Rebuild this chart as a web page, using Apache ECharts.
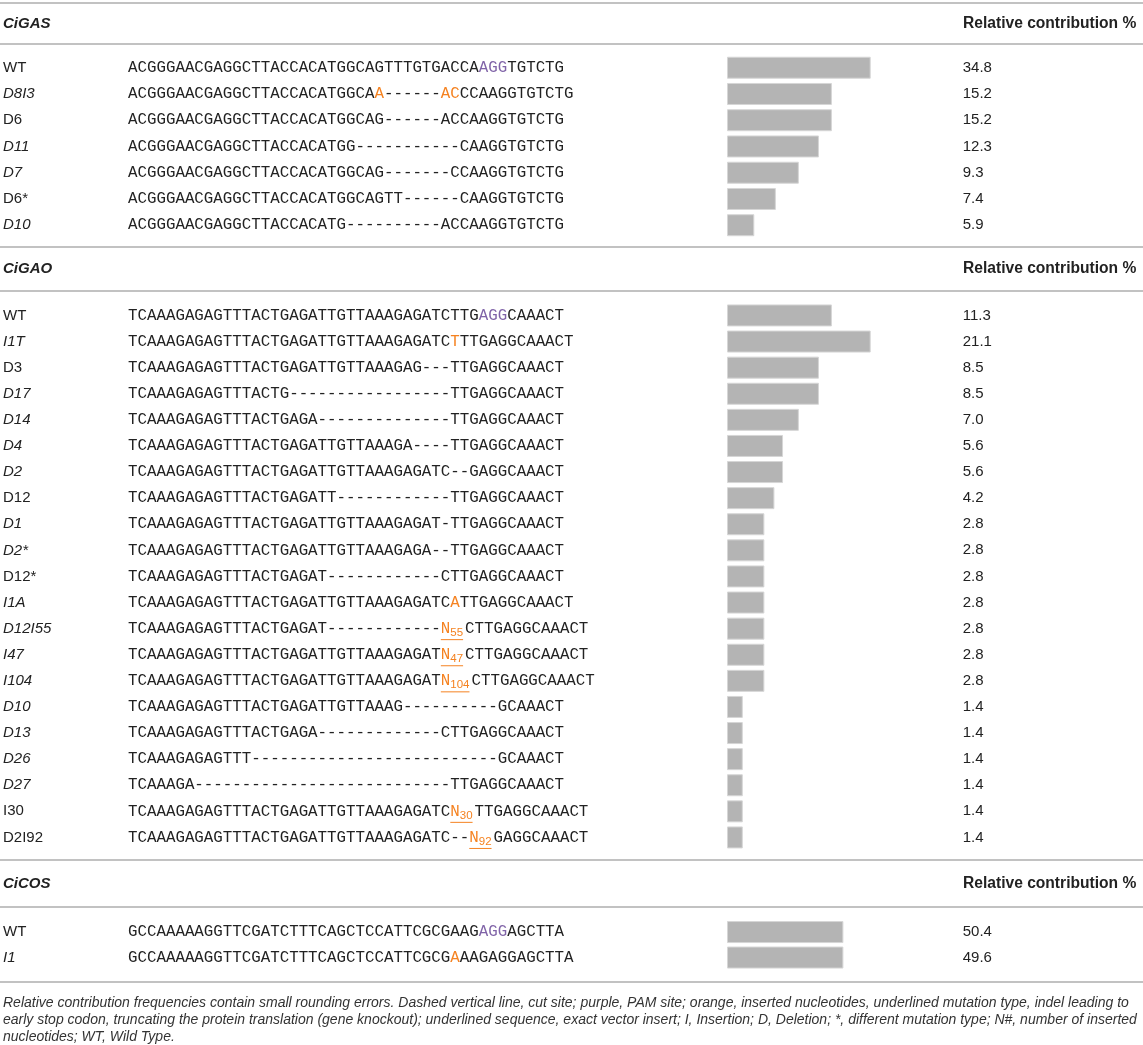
<!DOCTYPE html>
<html>
<head>
<meta charset="utf-8">
<script src="https://cdn.jsdelivr.net/npm/echarts@6/dist/echarts.min.js"></script>
<style>
  html, body { margin: 0; padding: 0; background: #fff; }
  #main { width: 1143px; height: 1045px; }
</style>
</head>
<body>
<div id="main"></div>
<script>
// {p:..} = PAM site (purple), {o:..} = inserted nucleotides (orange), {N:n} = insert of n nt
const gasNames = ['WT', 'D8I3', 'D6', 'D11', 'D7', 'D6*', 'D10'];
const gasSeqs = [
  'ACGGGAACGAGGCTTACCACATGGCAGTTTGTGACCA{p:AGG}TGTCTG',
  'ACGGGAACGAGGCTTACCACATGGCA{o:A}------{o:AC}CCAAGGTGTCTG',
  'ACGGGAACGAGGCTTACCACATGGCAG------ACCAAGGTGTCTG',
  'ACGGGAACGAGGCTTACCACATGG-----------CAAGGTGTCTG',
  'ACGGGAACGAGGCTTACCACATGGCAG-------CCAAGGTGTCTG',
  'ACGGGAACGAGGCTTACCACATGGCAGTT------CAAGGTGTCTG',
  'ACGGGAACGAGGCTTACCACATG----------ACCAAGGTGTCTG'
];
const gasValues = [34.8, 15.2, 15.2, 12.3, 9.3, 7.4, 5.9];
// bar length as drawn, relative to the longest bar
const gasBars = [1.0, 0.73, 0.73, 0.64, 0.50, 0.34, 0.19];
// knockout (frameshift / early stop) rows are set in italics
const gasKnockout = [0, 1, 0, 1, 1, 0, 1];

const gaoNames = ['WT', 'I1T', 'D3', 'D17', 'D14', 'D4', 'D2', 'D12', 'D1', 'D2*', 'D12*',
  'I1A', 'D12I55', 'I47', 'I104', 'D10', 'D13', 'D26', 'D27', 'I30', 'D2I92'];
const gaoSeqs = [
  'TCAAAGAGAGTTTACTGAGATTGTTAAAGAGATCTTG{p:AGG}CAAACT',
  'TCAAAGAGAGTTTACTGAGATTGTTAAAGAGATC{o:T}TTGAGGCAAACT',
  'TCAAAGAGAGTTTACTGAGATTGTTAAAGAG---TTGAGGCAAACT',
  'TCAAAGAGAGTTTACTG-----------------TTGAGGCAAACT',
  'TCAAAGAGAGTTTACTGAGA--------------TTGAGGCAAACT',
  'TCAAAGAGAGTTTACTGAGATTGTTAAAGA----TTGAGGCAAACT',
  'TCAAAGAGAGTTTACTGAGATTGTTAAAGAGATC--GAGGCAAACT',
  'TCAAAGAGAGTTTACTGAGATT------------TTGAGGCAAACT',
  'TCAAAGAGAGTTTACTGAGATTGTTAAAGAGAT-TTGAGGCAAACT',
  'TCAAAGAGAGTTTACTGAGATTGTTAAAGAGA--TTGAGGCAAACT',
  'TCAAAGAGAGTTTACTGAGAT------------CTTGAGGCAAACT',
  'TCAAAGAGAGTTTACTGAGATTGTTAAAGAGATC{o:A}TTGAGGCAAACT',
  'TCAAAGAGAGTTTACTGAGAT------------{N:55}CTTGAGGCAAACT',
  'TCAAAGAGAGTTTACTGAGATTGTTAAAGAGAT{N:47}CTTGAGGCAAACT',
  'TCAAAGAGAGTTTACTGAGATTGTTAAAGAGAT{N:104}CTTGAGGCAAACT',
  'TCAAAGAGAGTTTACTGAGATTGTTAAAG----------GCAAACT',
  'TCAAAGAGAGTTTACTGAGA-------------CTTGAGGCAAACT',
  'TCAAAGAGAGTTT--------------------------GCAAACT',
  'TCAAAGA---------------------------TTGAGGCAAACT',
  'TCAAAGAGAGTTTACTGAGATTGTTAAAGAGATC{N:30}TTGAGGCAAACT',
  'TCAAAGAGAGTTTACTGAGATTGTTAAAGAGATC--{N:92}GAGGCAAACT'
];
const gaoValues = [11.3, 21.1, 8.5, 8.5, 7.0, 5.6, 5.6, 4.2, 2.8, 2.8, 2.8,
  2.8, 2.8, 2.8, 2.8, 1.4, 1.4, 1.4, 1.4, 1.4, 1.4];
const gaoBars = [0.73, 1.0, 0.64, 0.64, 0.50, 0.39, 0.39, 0.33, 0.26, 0.26, 0.26,
  0.26, 0.26, 0.26, 0.26, 0.11, 0.11, 0.11, 0.11, 0.11, 0.11];
const gaoKnockout = [0, 1, 0, 1, 1, 1, 1, 0, 1, 1, 0, 1, 1, 1, 1, 1, 1, 1, 1, 0, 0];

const cosNames = ['WT', 'I1'];
const cosSeqs = [
  'GCCAAAAAGGTTCGATCTTTCAGCTCCATTCGCGAAG{p:AGG}AGCTTA',
  'GCCAAAAAGGTTCGATCTTTCAGCTCCATTCGCG{o:A}AAGAGGAGCTTA'
];
const cosValues = [50.4, 49.6];
const cosBars = [0.81, 0.81];
const cosKnockout = [0, 1];

const sectionTitles = ['CiGAS', 'CiGAO', 'CiCOS'];
const valueTitle = 'Relative contribution %';
const footnote = [
  'Relative contribution frequencies contain small rounding errors. Dashed vertical line, cut site; purple, PAM site; orange, inserted nucleotides, underlined mutation type, indel leading to',
  'early stop codon, truncating the protein translation (gene knockout); underlined sequence, exact vector insert; I, Insertion; D, Deletion; *, different mutation type; N#, number of inserted',
  'nucleotides; WT, Wild Type.'
];

var INK = '#222222';
var PURPLE = '#8064a8';
var ORANGE = '#f58220';
var SANS = '"Liberation Sans", Arial, sans-serif';
var MONO = '15.8px "Liberation Mono", monospace';
var SUB = '11.5px "Liberation Sans", Arial, sans-serif';
var SEQ_X = 128;

var ctx = document.createElement('canvas').getContext('2d');
function textW(s, font) {
  ctx.font = font;
  return ctx.measureText(s).width;
}

function parseSeq(s) {
  var parts = [], re = /\{([poN]):(\w+)\}/g, last = 0, m;
  while ((m = re.exec(s)) !== null) {
    if (m.index > last) parts.push({ kind: 'n', text: s.slice(last, m.index) });
    parts.push({ kind: m[1], text: m[2] });
    last = re.lastIndex;
  }
  if (last < s.length) parts.push({ kind: 'n', text: s.slice(last) });
  return parts;
}

function seqRender(seqs) {
  return function (params, api) {
    var y = api.coord([0, api.value(1)])[1];
    var x = SEQ_X;
    var kids = [];
    parseSeq(seqs[params.dataIndex]).forEach(function (p) {
      if (p.kind === 'N') {
        var x0 = x;
        kids.push({ type: 'text', style: { text: 'N', x: x, y: y, font: MONO, fill: ORANGE, verticalAlign: 'middle' } });
        x += textW('N', MONO);
        kids.push({ type: 'text', style: { text: p.text, x: x, y: y + 4, font: SUB, fill: ORANGE, verticalAlign: 'middle' } });
        x += textW(p.text, SUB);
        kids.push({ type: 'line', shape: { x1: x0, y1: y + 11, x2: x, y2: y + 11 }, style: { stroke: ORANGE, lineWidth: 1 } });
        x += 2;
      } else {
        var col = p.kind === 'p' ? PURPLE : (p.kind === 'o' ? ORANGE : INK);
        kids.push({ type: 'text', style: { text: p.text, x: x, y: y, font: MONO, fill: col, verticalAlign: 'middle' } });
        x += textW(p.text, MONO);
      }
    });
    return { type: 'group', children: kids };
  };
}

var sections = [
  { names: gasNames, seqs: gasSeqs, values: gasValues, bars: gasBars, ko: gasKnockout, top: 54.6, rowH: 26.25 },
  { names: gaoNames, seqs: gaoSeqs, values: gaoValues, bars: gaoBars, ko: gaoKnockout, top: 302.4, rowH: 26.1 },
  { names: cosNames, seqs: cosSeqs, values: cosValues, bars: cosBars, ko: cosKnockout, top: 919.3, rowH: 25.5 }
];

var grid = [], xAxis = [], yAxis = [], series = [];
sections.forEach(function (s, k) {
  grid.push({ left: 727, width: 143.7, top: s.top, height: s.rowH * s.names.length });
  xAxis.push({ gridIndex: k, type: 'value', min: 0, max: 1, show: false });
  yAxis.push({
    gridIndex: k, type: 'category', inverse: true, data: s.names,
    axisLine: { show: false }, axisTick: { show: false },
    axisLabel: {
      interval: 0, align: 'left', margin: 724,
      formatter: function (v, i) { return s.ko[i] ? '{i|' + v + '}' : '{n|' + v + '}'; },
      rich: {
        n: { fontFamily: SANS, fontSize: 15, color: INK },
        i: { fontFamily: SANS, fontSize: 15, color: INK, fontStyle: 'italic' }
      }
    }
  });
  yAxis.push({
    gridIndex: k, type: 'category', inverse: true, position: 'right',
    data: s.values.map(function (v) { return v.toFixed(1); }),
    axisLine: { show: false }, axisTick: { show: false },
    axisLabel: { interval: 0, align: 'left', margin: 92, fontFamily: SANS, fontSize: 15, color: INK }
  });
  series.push({
    type: 'bar', xAxisIndex: k, yAxisIndex: 2 * k, data: s.bars, barWidth: 22,
    itemStyle: { color: '#b4b4b4', borderColor: '#d6d6d6', borderWidth: 1 },
    silent: true
  });
  series.push({
    type: 'custom', xAxisIndex: k, yAxisIndex: 2 * k, clip: false, silent: true,
    data: s.names.map(function (n, i) { return [0, i]; }),
    encode: { x: 0, y: 1 },
    renderItem: seqRender(s.seqs)
  });
});

var ruleY = [3, 44, 247, 291, 860, 907, 982];
var headY = [24, 269, 884];
var graphic = ruleY.map(function (y) {
  return { type: 'line', shape: { x1: 0, y1: y, x2: 1143, y2: y }, style: { stroke: '#c2c2c2', lineWidth: 2 }, silent: true };
});
headY.forEach(function (y, k) {
  graphic.push({ type: 'text', x: 3, y: y, style: { text: sectionTitles[k], font: 'italic bold 15px ' + SANS, fill: INK, verticalAlign: 'middle' } });
  graphic.push({ type: 'text', x: 963, y: y, style: { text: valueTitle, font: 'bold 15.6px ' + SANS, fill: INK, verticalAlign: 'middle' } });
});
graphic.push({
  type: 'text', x: 3, y: 994.5,
  style: { text: footnote.join('\n'), font: 'italic 14px ' + SANS, fill: '#333', lineHeight: 17, verticalAlign: 'top' }
});

var myChart = echarts.init(document.getElementById('main'));
myChart.setOption({
  animation: false,
  backgroundColor: '#fff',
  grid: grid,
  xAxis: xAxis,
  yAxis: yAxis,
  series: series,
  graphic: graphic
});
</script>
</body>
</html>
